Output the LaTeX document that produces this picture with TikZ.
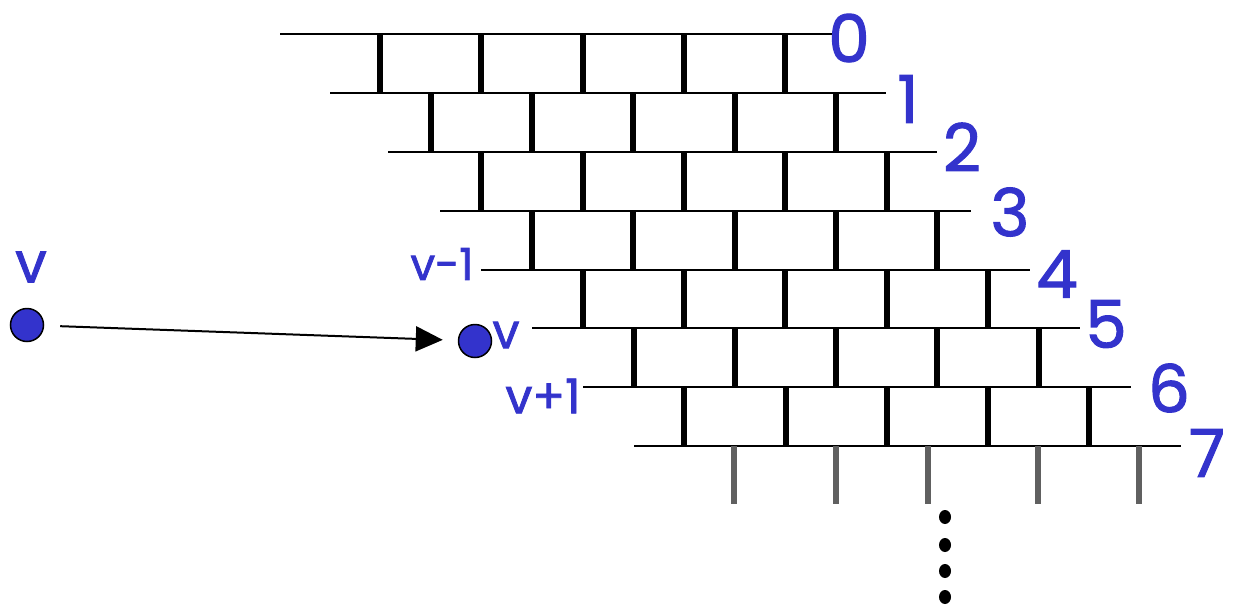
\documentclass[tikz,border=0pt]{standalone}
\usepackage{fontspec}
\setmainfont{Poppins}
\newfontfamily\lblfont{Poppins}[FakeBold=1.6]
\usetikzlibrary{arrows.meta}
\definecolor{lblue}{HTML}{3333CC}
\definecolor{tickgray}{HTML}{606060}
\begin{document}
\begin{tikzpicture}[x=1pt,y=-1pt,
  hline/.style={line width=2pt},
  brick/.style={line width=6pt},
  gtick/.style={line width=6pt,draw=tickgray},
  num/.style={text=lblue,font=\lblfont\fontsize{66}{66}\selectfont,inner sep=0pt},
  lab/.style={text=lblue,inner sep=0pt},
  blob/.style={circle,fill=lblue,draw=black,line width=1.5pt,minimum size=33pt,inner sep=0pt},
  arr/.style={line width=2pt,-{Triangle[length=27pt,width=25pt]}}]
\useasboundingbox (0,0) rectangle (1234,605);
% horizontal levels
\foreach \y/\a/\b in {34/280/832, 93/330/886, 152/388/937, 211/440/971, 270/481/1030, 328/532/1080, 387/583/1131, 446/634/1181}
  \draw[hline] (\a,\y) -- (\b,\y);
% black verticals
\foreach \r in {0,...,6}
  \foreach \k in {0,...,4}
    \draw[brick] ({380+50.7*\r+101.3*\k},{34+58.86*\r}) -- ({380+50.7*\r+101.3*\k},{34+58.86*(\r+1)});
% gray ticks
\foreach \x in {734,836,928,1038,1139}
  \draw[gtick] (\x,446) -- (\x,504);
% dots
\foreach \y in {517,545,571,597}
  \fill (945,\y) ellipse (6pt and 7pt);
% level numbers
\node[num] (n0) at (849,38) {0};
\node[num] (n1) at (908,99) {1};
\node[num] (n2) at (962,147) {2};
\node[num] (n3) at (1010,212) {3};
\node[num] (n4) at (1057,274) {4};
\node[num] (n5) at (1106,324) {5};
\node[num] (n6) at (1169,388) {6};
\node[num] (n7) at (1207,453) {7};
% labels
\node[lab,font=\lblfont\fontsize{56}{56}\selectfont] (vtop) at (31,267) {v};
\node[lab,font=\lblfont\fontsize{44}{44}\selectfont] (vm1) at (442,264) {v-1};
\node[lab,font=\lblfont\fontsize{48}{48}\selectfont] (vp1) at (543,396) {v+1};
\node[lab,font=\lblfont\fontsize{48}{48}\selectfont] (vr) at (506,335) {v};
% blobs and arrow
\node[blob] (b1) at (27,325) {};
\node[blob] (b2) at (475,341) {};
\draw[arr,shorten <=16pt,shorten >=15pt] (b1) -- (b2);
\end{tikzpicture}
\end{document}
